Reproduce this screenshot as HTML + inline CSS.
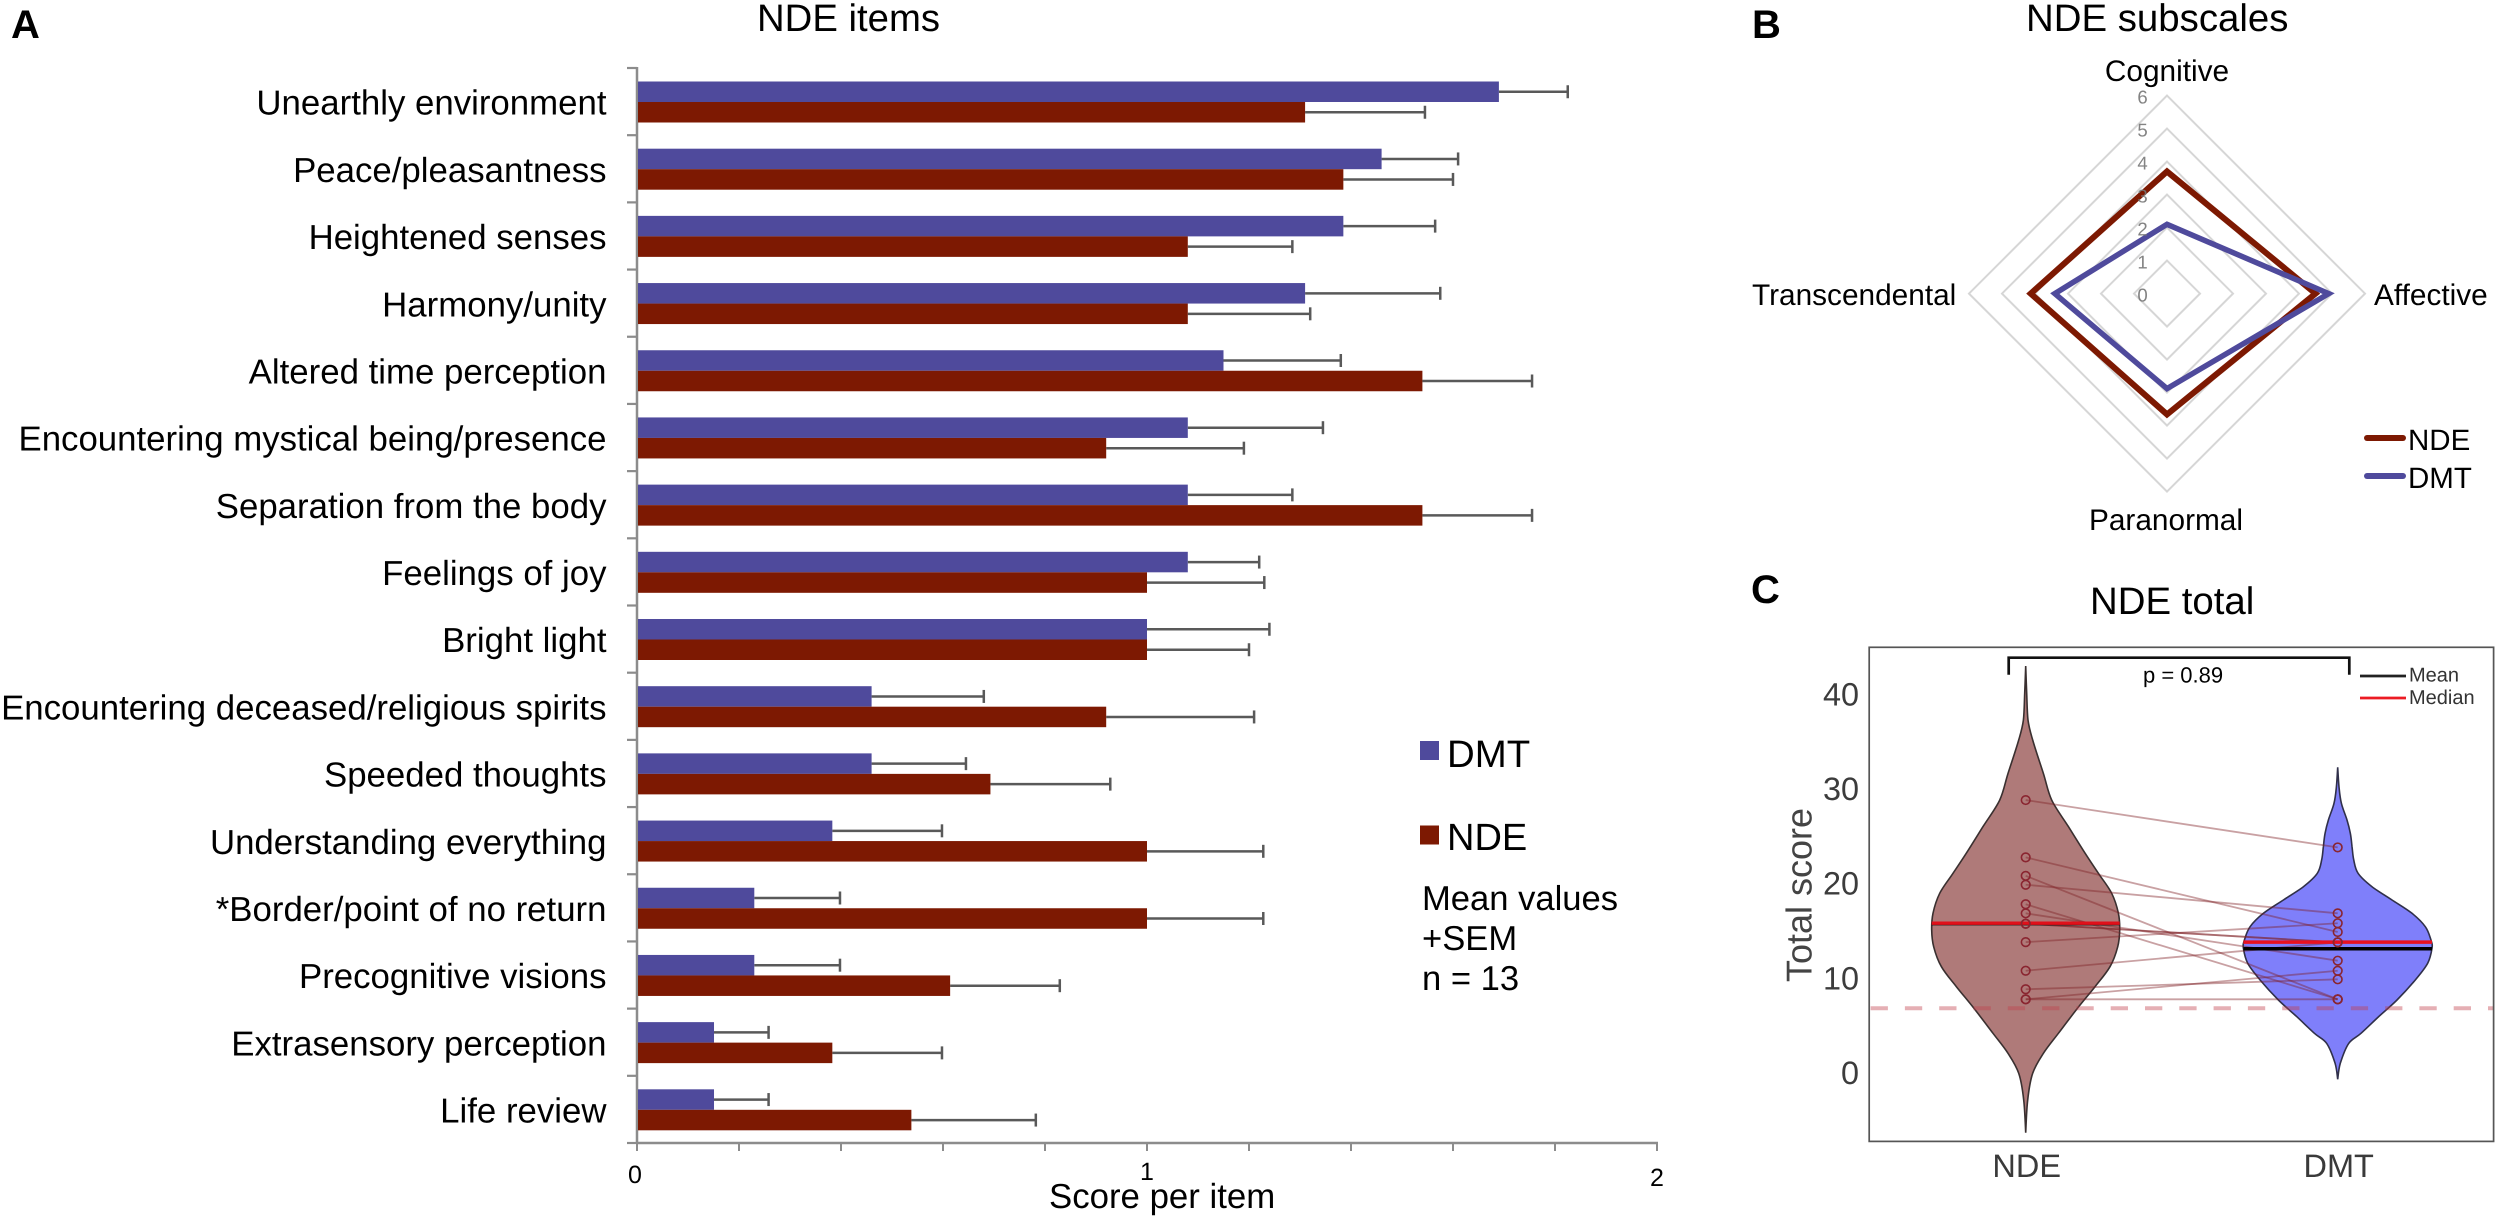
<!DOCTYPE html>
<html lang="en">
<head>
<meta charset="utf-8">
<title>NDE and DMT comparison</title>
<style>
html,body{margin:0;padding:0;background:#fff;width:2500px;height:1218px;overflow:hidden}
svg{display:block}
text{font-family:"Liberation Sans",sans-serif;fill:#000;text-rendering:geometricPrecision}
</style>
</head>
<body>
<svg id="fig" width="2500" height="1218" viewBox="0 0 2500 1218" xmlns="http://www.w3.org/2000/svg">
  <rect width="2500" height="1218" fill="#fff"/>
  <text x="11" y="38" font-size="40" font-weight="700">A</text>
  <text x="1752" y="38" font-size="40" font-weight="700">B</text>
  <text x="1751" y="603" font-size="40" font-weight="700">C</text>
  <text x="757" y="31" font-size="38.3">NDE items</text>
  <text x="2026" y="31" font-size="38.4">NDE subscales</text>
  <text x="2090" y="614" font-size="38.4">NDE total</text>
  <g id="panelA"></g>
  <text x="1049" y="1208" font-size="34.8">Score per item</text>
  <g>
    <rect x="1420" y="741" width="19" height="19" fill="#4f4a9c"/>
    <text x="1447" y="767" font-size="38.4">DMT</text>
    <rect x="1420" y="825.5" width="19" height="19" fill="#7d1902"/>
    <text x="1447" y="850" font-size="38">NDE</text>
    <text x="1422" y="910" font-size="34.6">Mean values</text>
    <text x="1422" y="950" font-size="34.6">+SEM</text>
    <text x="1422" y="990" font-size="34.6">n = 13</text>
  </g>
  <g id="panelB"></g>
  <g>
    <line x1="2367" y1="438" x2="2403" y2="438" stroke="#7d1902" stroke-width="6" stroke-linecap="round"/>
    <text x="2408" y="450" font-size="29.5">NDE</text>
    <line x1="2367" y1="476" x2="2403" y2="476" stroke="#4f4a9c" stroke-width="6" stroke-linecap="round"/>
    <text x="2408" y="488" font-size="29.5">DMT</text>
  </g>
  <g id="panelC"></g>
  <g>
    <path d="M2008.7 674.7V657.7H2349.3V674.7" fill="none" stroke="#111" stroke-width="2.7"/>
    <text x="2143" y="682.7" font-size="22">p = 0.89</text>
    <line x1="2360" y1="676" x2="2406" y2="676" stroke="#222" stroke-width="2.7"/>
    <text x="2409" y="681.3" font-size="20" style="fill:#333">Mean</text>
    <line x1="2360" y1="698" x2="2406" y2="698" stroke="#ec1c24" stroke-width="2.7"/>
    <text x="2409" y="704" font-size="20" style="fill:#333">Median</text>
    <text transform="translate(1811.5 895) rotate(-90)" text-anchor="middle" font-size="36" style="fill:#444">Total score</text>
  </g>
</svg>
<script>
// ---------- Panel A data ----------
const itemNames = ["Unearthly environment","Peace/pleasantness","Heightened senses","Harmony/unity","Altered time perception","Encountering mystical being/presence","Separation from the body","Feelings of joy","Bright light","Encountering deceased/religious spirits","Speeded thoughts","Understanding everything","*Border/point of no return","Precognitive visions","Extrasensory perception","Life review"];
const dmtMeans = [1.69,1.46,1.385,1.31,1.15,1.08,1.08,1.08,1.0,0.46,0.46,0.383,0.23,0.23,0.151,0.151];
const dmtSem = [0.135,0.15,0.18,0.265,0.23,0.265,0.205,0.14,0.24,0.22,0.185,0.215,0.168,0.168,0.107,0.107];
const ndeMeans = [1.31,1.385,1.08,1.08,1.54,0.92,1.54,1.0,1.0,0.92,0.693,1.0,1.0,0.614,0.383,0.538];
const ndeSem = [0.235,0.215,0.205,0.24,0.215,0.27,0.215,0.23,0.2,0.29,0.235,0.228,0.228,0.215,0.215,0.244];
const xMinorTicks = [0,0.2,0.4,0.6,0.8,1,1.2,1.4,1.6,1.8,2];
const xTickLabels = [0,1,2];

// ---------- Panel B data ----------
const radarAxes = ["Cognitive","Affective","Paranormal","Transcendental"];
const radarTicks = [0,1,2,3,4,5,6];
const radarNde = [3.7,4.5,3.66,4.13];
const radarDmt = [2.1,4.9,2.88,3.4];

// ---------- Panel C data ----------
const violinGroups = ["NDE","DMT"];
const yTickLabels = [0,10,20,30,40];
const ndeViolinScore = [42.96,40.07,37.25,35.14,31.6,28.8,26,23.2,21.07,18.95,16.84,15.08,13.3,11.2,9.1,6.8,4.17,2.06,-0.05,-2.87,-6.33];
const ndeViolinDensity = [0,0.011,0.025,0.074,0.188,0.277,0.454,0.631,0.773,0.915,0.986,1,0.979,0.897,0.738,0.55,0.348,0.188,0.074,0.021,0];
const dmtViolinScore = [32.26,30.2,28.46,26.7,25.3,23.9,22.5,21.07,19.65,18.25,16.84,15.43,14.02,13.15,11.56,9.8,7.69,5.93,4.17,3.1,1.0,-0.69];
const dmtViolinDensity = [0,0.014,0.039,0.099,0.134,0.152,0.17,0.216,0.364,0.576,0.788,0.929,0.989,1,0.954,0.823,0.629,0.435,0.247,0.117,0.028,0];
const ndeScores = [28.8,22.75,20.8,19.86,17.8,16.84,15.74,15.74,13.8,10.78,8.82,7.76,7.76];
const dmtScores = [23.8,14.87,7.76,16.84,7.76,11.84,13.78,13.78,15.79,13.78,9.87,10.78,7.76];
const ndeMean = 15.75;
const ndeMedian = 15.8;
const dmtMean = 13.1;
const dmtMedian = 13.8;
const cutoffScore = 6.81;

const NS = "http://www.w3.org/2000/svg";
function add(parent, tag, attrs, txt){
  const el = document.createElementNS(NS, tag);
  for (const k in attrs) el.setAttribute(k, attrs[k]);
  if (txt !== undefined) el.textContent = txt;
  parent.appendChild(el);
  return el;
}

// ---------- Panel A ----------
(function(){
  const g = document.getElementById("panelA");
  const xA = v => 637 + 510 * v;
  const band = i => 68 + (1075 / itemNames.length) * i;
  const barH = 20.5;
  const axisColor = "#8c8c8c";

  const yAxis = add(g, "line", {x1:637,y1:67,x2:637,y2:1144,stroke:axisColor,"stroke-width":2.5});
  
  
  const xAxis = add(g, "line", {x1:636,y1:1143,x2:xA(2)+1,y2:1143,stroke:axisColor,"stroke-width":2.5});
  
  

  for (let i = 0; i <= itemNames.length; i++){
    const t = add(g, "line", {x1:627,y1:band(i),x2:637,y2:band(i),stroke:axisColor,"stroke-width":2.2});
    
    
  }
  xMinorTicks.forEach(v => {
    const t = add(g, "line", {x1:xA(v),y1:1143,x2:xA(v),y2:1151,stroke:axisColor,"stroke-width":2});
    
    
  });
  xTickLabels.forEach(v => {
    const nudge = v === 1 ? -3 : (v === 2 ? 3 : 0);
    const t = add(g, "text", {x:xA(v)-(v===0?2:0),y:1183+nudge,"text-anchor":"middle","font-size":25}, String(v));
    
    
  });

  function errorBar(mean, sem, yc, name){
    const x0 = xA(mean), x1 = xA(mean + sem);
    const l = add(g, "line", {x1:x0,y1:yc,x2:x1,y2:yc,stroke:"#595959","stroke-width":2.5});
    
    
    const c = add(g, "line", {x1:x1,y1:yc-6.5,x2:x1,y2:yc+6.5,stroke:"#595959","stroke-width":2.5});
    
    
  }

  itemNames.forEach((name, i) => {
    const top = band(i) + 13.5;
    const lab = add(g, "text", {x:606.5,y:band(i)+46.7,"text-anchor":"end","font-size":34.8}, name);
    
    
    errorBar(dmtMeans[i], dmtSem[i], top + barH/2, 'dmt');
    errorBar(ndeMeans[i], ndeSem[i], top + barH*1.5, 'nde');
    const b1 = add(g, "rect", {x:638,y:top,width:xA(dmtMeans[i])-638,height:barH,fill:"#4f4a9c"});
    
    
    const b2 = add(g, "rect", {x:638,y:top+barH,width:xA(ndeMeans[i])-638,height:barH,fill:"#7d1902"});
    
    
  });
})();

// ---------- Panel B ----------
(function(){
  const g = document.getElementById("panelB");
  const cx = 2167, cy = 293.6, unit = 33;
  const pt = (axisIdx, v) => {
    const a = axisIdx * Math.PI / 2;
    return [cx + Math.sin(a) * v * unit, cy - Math.cos(a) * v * unit];
  };
  const poly = vals => vals.map((v, i) => pt(i, v).map(n => n.toFixed(1)).join(",")).join(" ");

  radarTicks.filter(t => t > 0).forEach(t => {
    const ring = add(g, "polygon", {points:poly(radarAxes.map(() => t)),fill:"none",stroke:"#d6d6d6","stroke-width":2});
    
    
  });
  const nde = add(g, "polygon", {points:poly(radarNde),fill:"none",stroke:"#7d1902","stroke-width":6,"stroke-linejoin":"miter"});
  
  
  const dmt = add(g, "polygon", {points:poly(radarDmt),fill:"none",stroke:"#4f4a9c","stroke-width":5.5,"stroke-linejoin":"miter"});
  
  
  radarTicks.forEach(t => {
    const lab = add(g, "text", {x:cx-24.5,y:cy-t*unit+8,"text-anchor":"middle","font-size":18.6,style:"fill:#767676;fill-opacity:.9"}, String(t));
    
    
  });

  const axisLabelX = {Cognitive:2167,Affective:2374,Paranormal:2166,Transcendental:1752};
  const axisLabelY = {Cognitive:81,Affective:305,Paranormal:530,Transcendental:305};
  const axisLabelAnchor = {Cognitive:"middle",Affective:"start",Paranormal:"middle",Transcendental:"start"};
  radarAxes.forEach(name => {
    const t = add(g, "text", {x:axisLabelX[name],y:axisLabelY[name],"text-anchor":axisLabelAnchor[name],"font-size":29.8}, name);
    
    
  });
})();

// ---------- Panel C ----------
(function(){
  const g = document.getElementById("panelC");
  const yC = v => 1072.8 - 9.47 * v;
  const groupX = i => 2025.7 + 312 * i;
  const maxHalf = [94, 94.3];
  const left = 1869.2, right = 2493.6, top = 647.3, bottom = 1141.4;

  function smooth(pts){
    let d = "M" + pts[0][0].toFixed(1) + " " + pts[0][1].toFixed(1);
    for (let i = 0; i < pts.length - 1; i++){
      const p0 = pts[Math.max(i-1,0)], p1 = pts[i], p2 = pts[i+1], p3 = pts[Math.min(i+2,pts.length-1)];
      const c1 = [p1[0]+(p2[0]-p0[0])/6, p1[1]+(p2[1]-p0[1])/6];
      const c2 = [p2[0]-(p3[0]-p1[0])/6, p2[1]-(p3[1]-p1[1])/6];
      d += "C" + c1[0].toFixed(1)+" "+c1[1].toFixed(1)+" "+c2[0].toFixed(1)+" "+c2[1].toFixed(1)+" "+p2[0].toFixed(1)+" "+p2[1].toFixed(1);
    }
    return d;
  }
  function violinPath(i, scores, dens){
    const c = groupX(i);
    const r = scores.map((s, k) => [c + dens[k]*maxHalf[i], yC(s)]);
    const l = scores.map((s, k) => [c - dens[k]*maxHalf[i], yC(s)]).reverse();
    return smooth(r) + smooth(l).replace(/^M/, "L") + "Z";
  }

  const v1 = add(g, "path", {d:violinPath(0, ndeViolinScore, ndeViolinDensity),fill:"#af7a79",stroke:"#3a3030","stroke-width":1.6});
  
  
  const v2 = add(g, "path", {d:violinPath(1, dmtViolinScore, dmtViolinDensity),fill:"#7f7ffa",stroke:"#30304a","stroke-width":1.6});
  
  

  const cut = add(g, "line", {x1:1870.6,y1:yC(cutoffScore),x2:right,y2:yC(cutoffScore),stroke:"#c0404c","stroke-opacity":0.42,"stroke-width":4,"stroke-dasharray":"17.3 17"});
  
  

  ndeScores.forEach((s, i) => {
    const l = add(g, "line", {x1:groupX(0),y1:yC(s),x2:groupX(1),y2:yC(dmtScores[i]),stroke:"#7f1f24","stroke-opacity":0.42,"stroke-width":1.8});
    
    
  });

  function stat(i, v, color, name){
    const half = maxHalf[i];
    const l = add(g, "line", {x1:groupX(i)-half,y1:yC(v),x2:groupX(i)+half,y2:yC(v),stroke:color,"stroke-width":3.4});
    
    
  }
  stat(0, ndeMean, "#111", 'mean-line-nde');
  stat(0, ndeMedian, "#e0101a", 'median-line-nde');
  stat(1, dmtMean, "#000", 'mean-line-dmt');
  stat(1, dmtMedian, "#e8111f", 'median-line-dmt');

  ndeScores.forEach(s => {
    const c = add(g, "circle", {cx:groupX(0),cy:yC(s),r:4.3,fill:"none",stroke:"#8a2530","stroke-width":1.6});
    
    
  });
  dmtScores.forEach(s => {
    const c = add(g, "circle", {cx:groupX(1),cy:yC(s),r:4.3,fill:"none",stroke:"#8a2530","stroke-width":1.6});
    
    
  });

  const box = add(g, "rect", {x:left,y:top,width:right-left,height:bottom-top,fill:"none",stroke:"#555","stroke-width":1.7});
  
  

  yTickLabels.forEach(v => {
    const t = add(g, "text", {x:1859,y:yC(v)+11.3,"text-anchor":"end","font-size":32.4,style:"fill:#3c3c3c"}, String(v));
    
    
  });
  violinGroups.forEach((name, i) => {
    const t = add(g, "text", {x:groupX(i)+1,y:1177,"text-anchor":"middle","font-size":32.5,style:"fill:#3a3a3a"}, name);
    
    
  });
})();
</script>
</body>
</html>
